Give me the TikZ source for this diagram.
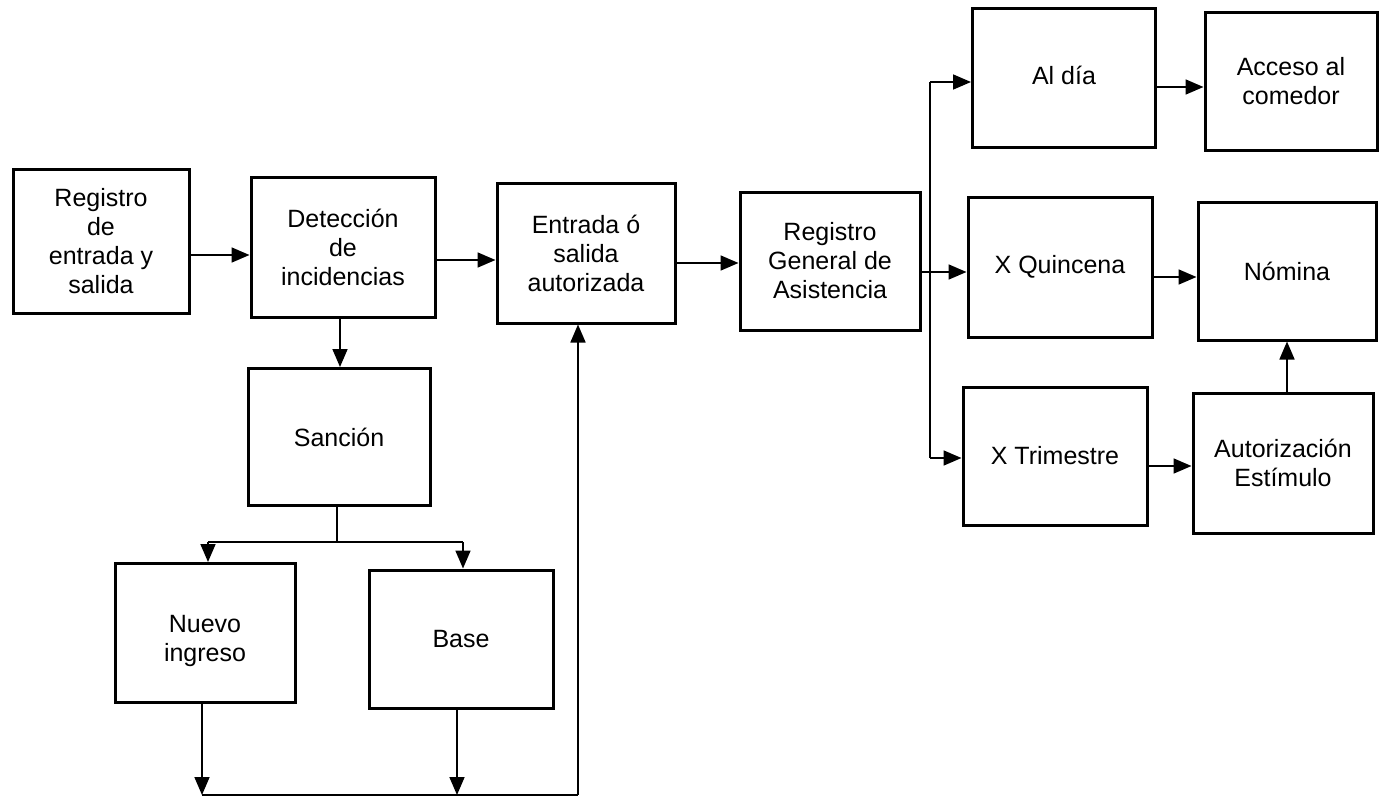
\documentclass[tikz,border=0pt]{standalone}
\usepackage{fontspec}
\setmainfont{Liberation Sans}
\usetikzlibrary{arrows.meta}
\begin{document}
\begin{tikzpicture}[x=1pt,y=-1pt,
  box/.style={draw, line width=3pt, align=center, inner sep=0pt,
    font=\fontsize{25}{29}\selectfont},
  conn/.style={line width=1.7pt},
  arr/.style={conn, -{Triangle[length=18pt,width=15pt]}}]
\useasboundingbox (0,0) rectangle (1379,803);
% boxes
\node[box, minimum width=176pt, minimum height=144pt] (reg) at (101,241) {Registro\\de\\entrada y\\salida};
\node[box, minimum width=184pt, minimum height=140pt] (det) at (343,247) {Detección\\de\\incidencias};
\node[box, minimum width=178pt, minimum height=140pt] (ent) at (586,253) {Entrada ó\\salida\\autorizada};
\node[box, minimum width=180pt, minimum height=138pt] (rga) at (830,261) {Registro\\General de\\Asistencia};
\node[box, minimum width=183pt, minimum height=139pt] (dia) at (1064,78) {\raisebox{6pt}{Al día}};
\node[box, minimum width=172pt, minimum height=138pt] (acc) at (1291,81) {Acceso al\\comedor};
\node[box, minimum width=184pt, minimum height=140pt] (qui) at (1060,267) {X Quincena};
\node[box, minimum width=178pt, minimum height=138pt] (nom) at (1287,271) {Nómina};
\node[box, minimum width=184pt, minimum height=138pt] (tri) at (1055,456) {X Trimestre};
\node[box, minimum width=180pt, minimum height=140pt] (aut) at (1283,463) {Autorización\\Estímulo};
\node[box, minimum width=182pt, minimum height=137pt] (san) at (339,437) {Sanción};
\node[box, minimum width=180pt, minimum height=139pt] (nue) at (205,633) {\\[4pt]Nuevo\\ingreso};
\node[box, minimum width=184pt, minimum height=138pt] (bas) at (461,639) {Base};
% main flow
\draw[arr] (reg.east |- 0,255) -- (det.west |- 0,255);
\draw[arr] (det.east |- 0,260) -- (ent.west |- 0,260);
\draw[arr] (ent.east |- 0,263) -- (rga.west |- 0,263);
\draw[arr] (rga.east |- 0,272) -- (qui.west |- 0,272);
% branch to Al dia / X Trimestre
\coordinate (bt) at (930,82);
\coordinate (bb) at (930,458);
\draw[conn] (bt) -- (bb);
\draw[arr] (bt) -- (dia.west |- bt);
\draw[arr] (bb) -- (tri.west |- bb);
% right column
\draw[arr] (dia.east |- 0,87) -- (acc.west |- 0,87);
\draw[arr] (qui.east |- 0,277) -- (nom.west |- 0,277);
\draw[arr] (tri.east |- 0,466) -- (aut.west |- 0,466);
\draw[arr] (aut.north -| 1287,0) -- (nom.south -| 1287,0);
% sanction branch
\draw[arr] (det.south -| 340,0) -- (san.north -| 340,0);
\coordinate (sj) at (337,542);
\coordinate (sl) at (208,542);
\coordinate (sr) at (463,542);
\draw[conn] (san.south -| sj) -- (sj);
\draw[conn] (sl) -- (sr);
\draw[arr] (sl) -- (nue.north -| sl);
\draw[arr] (sr) -- (bas.north -| sr);
% return to Entrada
\coordinate (nb) at (202,795);
\coordinate (bb2) at (457,795);
\coordinate (rc) at (578,795);
\draw[arr] (nue.south -| nb) -- (nb);
\draw[arr] (bas.south -| bb2) -- (bb2);
\draw[conn] (nb) -- (rc);
\draw[arr] (rc) -- (ent.south -| rc);
\end{tikzpicture}
\end{document}
